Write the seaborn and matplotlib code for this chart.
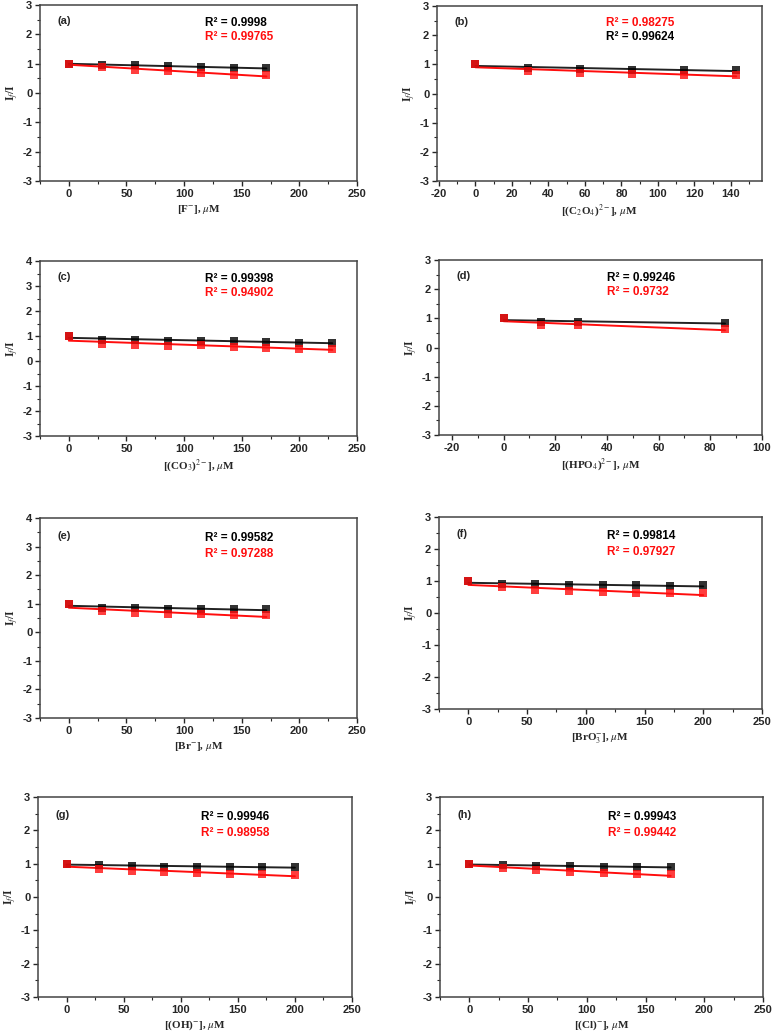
import numpy as np
import pandas as pd
import matplotlib
matplotlib.use("Agg")
import matplotlib.pyplot as plt
from matplotlib.ticker import MultipleLocator
import seaborn as sns

sns.set_style("ticks")
plt.rcParams['font.family'] = ['Liberation Sans', 'DejaVu Sans']
plt.rcParams['mathtext.fontset'] = 'stix'
plt.rcParams['axes.unicode_minus'] = False

# ---------------- data ----------------
panel_labels = ["(a)", "(b)", "(c)", "(d)", "(e)", "(f)", "(g)", "(h)"]
xlabels = [r"[F$^{-}$], $\mu$M",
           r"[(C$_2$O$_4$)$^{2-}$], $\mu$M",
           r"[(CO$_3$)$^{2-}$], $\mu$M",
           r"[(HPO$_4$)$^{2-}$], $\mu$M",
           r"[Br$^{-}$], $\mu$M",
           r"[BrO$_3^{-}$], $\mu$M",
           r"[(OH)$^{-}$], $\mu$M",
           r"[(Cl)$^{-}$], $\mu$M"]

x_a = [0, 28.6, 57.1, 85.7, 114.3, 142.9, 171.4]
black_a = [1.00, 0.97, 0.95, 0.91, 0.88, 0.86, 0.85]
red_a = [1.00, 0.90, 0.80, 0.75, 0.67, 0.63, 0.60]

x_b = [0, 28.6, 57.1, 85.7, 114.3, 142.9]
black_b = [1.00, 0.87, 0.85, 0.82, 0.80, 0.80]
red_b = [1.00, 0.77, 0.72, 0.68, 0.64, 0.65]

x_c = [0, 28.6, 57.1, 85.7, 114.3, 142.9, 171.4, 200.0, 228.6]
black_c = [1.00, 0.85, 0.85, 0.82, 0.82, 0.80, 0.76, 0.74, 0.73]
red_c = [1.00, 0.67, 0.65, 0.60, 0.63, 0.58, 0.54, 0.50, 0.50]

x_d = [0, 14.3, 28.6, 85.7]
black_d = [1.00, 0.87, 0.87, 0.84]
red_d = [1.00, 0.76, 0.76, 0.62]

x_e = [0, 28.6, 57.1, 85.7, 114.3, 142.9, 171.4]
black_e = [1.00, 0.85, 0.85, 0.82, 0.83, 0.80, 0.80]
red_e = [1.00, 0.73, 0.68, 0.65, 0.63, 0.60, 0.60]

x_f = [0, 28.6, 57.1, 85.7, 114.3, 142.9, 171.4, 200.0]
black_f = [1.00, 0.90, 0.90, 0.87, 0.86, 0.86, 0.85, 0.86]
red_f = [1.00, 0.80, 0.72, 0.69, 0.66, 0.64, 0.62, 0.62]

x_g = [0, 28.6, 57.1, 85.7, 114.3, 142.9, 171.4, 200.0]
black_g = [1.00, 0.96, 0.93, 0.91, 0.91, 0.90, 0.90, 0.90]
red_g = [1.00, 0.85, 0.78, 0.74, 0.72, 0.69, 0.68, 0.67]

x_h = [0, 28.6, 57.1, 85.7, 114.3, 142.9, 171.4]
black_h = [1.00, 0.95, 0.93, 0.92, 0.91, 0.91, 0.90]
red_h = [1.00, 0.88, 0.82, 0.75, 0.71, 0.69, 0.68]

r2_black = ["0.9998", "0.99624", "0.99398", "0.99246", "0.99582", "0.99814", "0.99946", "0.99943"]
r2_red = ["0.99765", "0.98275", "0.94902", "0.9732", "0.97288", "0.97927", "0.98958", "0.99442"]

xs = [x_a, x_b, x_c, x_d, x_e, x_f, x_g, x_h]
blacks = [black_a, black_b, black_c, black_d, black_e, black_f, black_g, black_h]
reds = [red_a, red_b, red_c, red_d, red_e, red_f, red_g, red_h]

# ---------------- layout ----------------
W, H = 775, 1032
# (left, top, right, bottom) in pixels
boxes = [(40, 5, 357, 181), (437, 6, 762, 181),
         (40, 261, 357, 436), (439, 260, 762, 435),
         (40, 518, 357, 718), (439, 517, 762, 709),
         (38, 797, 352, 997), (440, 797, 763, 997)]
xlims = [(-25, 250), (-21, 157), (-25, 250), (-25, 100),
         (-25, 250), (-25, 250), (-25, 250), (-25, 250)]
ylims = [(-3, 3), (-3, 3), (-3, 4), (-3, 3), (-3, 4), (-3, 3), (-3, 3), (-3, 3)]
xmaj = [50, 20, 50, 20, 50, 50, 50, 50]
red_first = [False, True, False, False, False, False, False, False]

RED = "#ff0d0d"
fig = plt.figure(figsize=(W / 100, H / 100), dpi=100)
fig.patch.set_facecolor("white")

for i in range(8):
    l, t, r, b = boxes[i]
    ax = fig.add_axes([l / W, 1 - b / H, (r - l) / W, (b - t) / H])
    df = pd.DataFrame({"x": xs[i], "black": blacks[i], "red": reds[i]})
    sns.regplot(data=df, x="x", y="black", ax=ax, ci=None, marker="s", color="black",
                scatter_kws=dict(s=26, linewidths=0, zorder=3),
                line_kws=dict(lw=1.4, color="#222222"))
    sns.regplot(data=df, x="x", y="red", ax=ax, ci=None, marker="s", color=RED,
                scatter_kws=dict(s=26, linewidths=0, zorder=3),
                line_kws=dict(lw=1.4, color=RED))
    ax.set_xlim(*xlims[i])
    ax.set_ylim(*ylims[i])
    ax.xaxis.set_major_locator(MultipleLocator(xmaj[i]))
    ax.xaxis.set_minor_locator(MultipleLocator(xmaj[i] / 2))
    ax.yaxis.set_major_locator(MultipleLocator(1))
    ax.yaxis.set_minor_locator(MultipleLocator(0.5))
    ax.tick_params(which="major", direction="out", length=3.5, width=1, labelsize=8, pad=2)
    ax.tick_params(which="minor", direction="out", length=2, width=0.8)
    for lab in ax.get_xticklabels() + ax.get_yticklabels():
        lab.set_fontweight("bold")
    for sp in ax.spines.values():
        sp.set_color("#444444")
        sp.set_linewidth(1.1)
    ax.set_xlabel(xlabels[i], fontsize=8, fontweight="bold", family="Liberation Serif", labelpad=3)
    ax.set_ylabel(r"I$_f$/I", fontsize=8.5, fontweight="bold", family="Liberation Serif")
    ax.yaxis.set_label_coords(-19.0 / (r - l), 0.5)
    ax.text(0.055, 0.91, panel_labels[i], transform=ax.transAxes, fontsize=8,
            fontweight="bold", va="center", ha="left")
    top_txt, top_col = (r2_red[i], RED) if red_first[i] else (r2_black[i], "black")
    bot_txt, bot_col = (r2_black[i], "black") if red_first[i] else (r2_red[i], RED)
    ax.text(0.52, 0.90, "R² = " + top_txt, transform=ax.transAxes, fontsize=8.5,
            fontweight="bold", color=top_col, va="center", ha="left")
    ax.text(0.52, 0.82, "R² = " + bot_txt, transform=ax.transAxes, fontsize=8.5,
            fontweight="bold", color=bot_col, va="center", ha="left")

fig.savefig("out.png", dpi=100, facecolor="white")
